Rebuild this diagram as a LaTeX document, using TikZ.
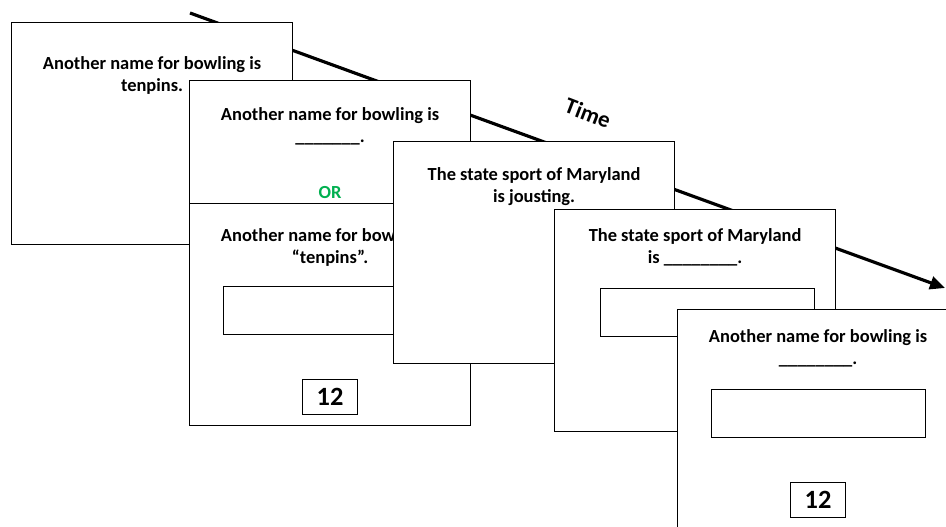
\documentclass[tikz,border=0pt]{standalone}
\usepackage{fontspec}
\setmainfont{Carlito}
\usepackage{xcolor}
\usetikzlibrary{arrows.meta, positioning}
\definecolor{orgreen}{RGB}{0,176,80}
\tikzset{
  >={Triangle[length=0.3cm,width=0.26cm]},
  card/.style={draw,fill=white,line width=0.7pt,anchor=north west,inner sep=0pt,
    minimum width=5.62cm,minimum height=4.44cm},
  cardtext/.style={font=\fontsize{10.5}{12.6}\selectfont\bfseries,align=center,inner sep=0pt},
  answer/.style={draw,line width=0.7pt,inner sep=0pt,
    minimum width=4.28cm,minimum height=0.96cm},
  numbox/.style={draw,line width=0.7pt,minimum width=1.1cm,minimum height=0.7cm,
    font=\fontsize{15}{18}\selectfont\bfseries},
  timeline/.style={->,line width=1.8pt},
  timelabel/.style={font=\fontsize{13}{15}\selectfont\bfseries,rotate=-21}
}

\begin{document}
\begin{tikzpicture}[x=0.02cm,y=-0.02cm]
  \useasboundingbox (0,0) rectangle (946,527);
  \clip (0,0) rectangle (946,527);

  % Time axis
  \coordinate (tstart) at (190,13);
  \coordinate (tend) at (945,288);
  \draw[timeline] (tstart) -- (tend);
  \node[timelabel] at (588,113) (time){Time};

  % Study
  \node[card] at (11,22) (card1){};
  \node[cardtext, below=0.68cm of card1.north] (text1){Another name for bowling is\\tenpins.};

  % Test or restudy
  \node[card] at (189,80) (card2a){};
  \node[cardtext, below=0.54cm of card2a.north] (text2a){Another name for bowling is\\\_\_\_\_\_\_\_.};
  \node[cardtext, text=orgreen, below=2.12cm of card2a.north] (or){OR};

  \node[card] at (189,203) (card2b){};
  \node[cardtext, below=0.5cm of card2b.north] (text2b){Another name for bowling is\\“tenpins”.};
  \node[answer, below right=1.66cm and 0.68cm of card2b.north west] (ans2b){};
  \node[numbox, below=3.52cm of card2b.north] (num2b){12};

  % Filler item
  \node[card] at (393,141) (card3){};
  \node[cardtext, below=0.52cm of card3.north] (text3){The state sport of Maryland\\is jousting.};

  \node[card] at (554,209) (card4){};
  \node[cardtext, below=0.38cm of card4.north] (text4){The state sport of Maryland\\is \_\_\_\_\_\_\_\_.};
  \node[answer, below right=1.58cm and 0.92cm of card4.north west] (ans4){};

  % Final test
  \node[card] at (677,309) (card5){};
  \node[cardtext, below=0.4cm of card5.north] (text5){Another name for bowling is\\\_\_\_\_\_\_\_\_.};
  \node[answer, below right=1.6cm and 0.68cm of card5.north west] (ans5){};
  \node[numbox, below=3.46cm of card5.north] (num5){12};
\end{tikzpicture}
\end{document}
